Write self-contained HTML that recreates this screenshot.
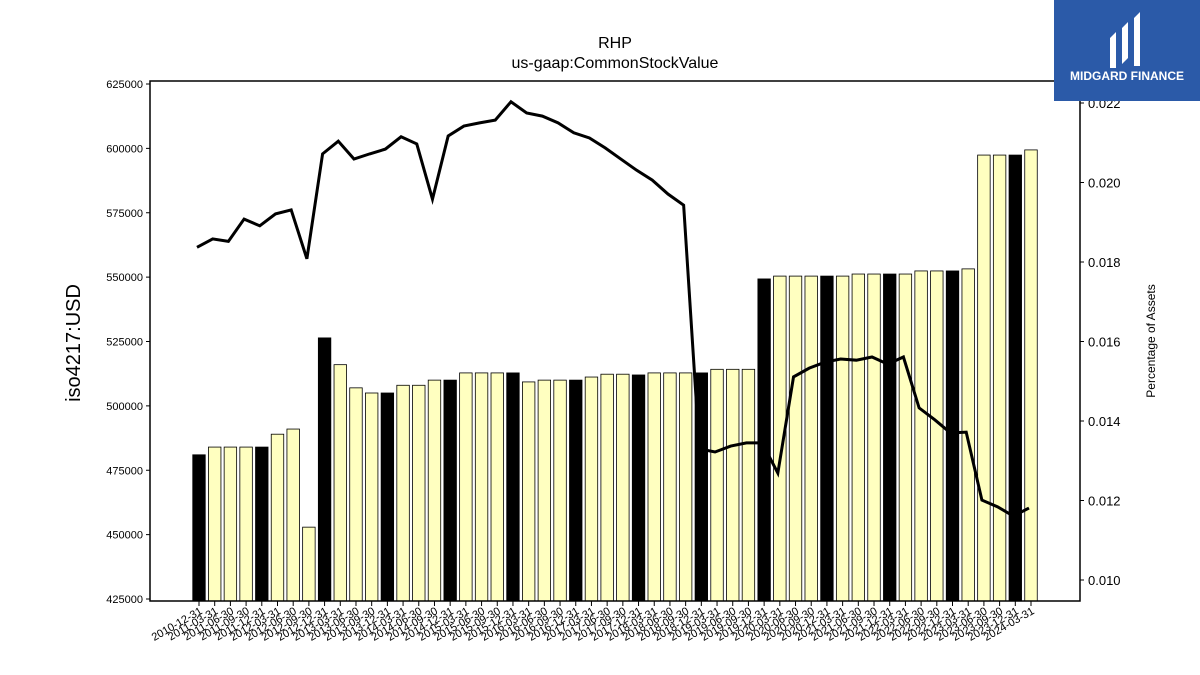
<!DOCTYPE html>
<html><head><meta charset="utf-8"><style>
body{margin:0;background:#fff;font-family:"Liberation Sans",sans-serif}
#wrap{position:relative;width:1200px;height:675px;overflow:hidden}
</style></head><body><div id="wrap">
<svg id="chart" width="1200" height="675"></svg>
<div style="position:absolute;left:1054px;top:0;width:146px;height:101px;background:#2b5aa8;color:#fff;font-weight:bold;font-size:12px;text-align:center">
<svg width="50" height="62" style="margin-top:8px"><path d="M8 30 L14 24 L14 60 L8 60Z M20 20 L26 14 L26 50 L20 56Z M32 10 L38 4 L38 58 L32 58Z" fill="#fff"/></svg>
<div style="margin-top:-4px">MIDGARD FINANCE</div></div>
</div>
<script>
const dates=["2010-12-31","2011-03-31","2011-06-30","2011-09-30","2011-12-31","2012-03-31","2012-06-30","2012-09-30","2012-12-31","2013-03-31","2013-06-30","2013-09-30","2013-12-31","2014-03-31","2014-06-30","2014-09-30","2014-12-31","2015-03-31","2015-06-30","2015-09-30","2015-12-31","2016-03-31","2016-06-30","2016-09-30","2016-12-31","2017-03-31","2017-06-30","2017-09-30","2017-12-31","2018-03-31","2018-06-30","2018-09-30","2018-12-31","2019-03-31","2019-06-30","2019-09-30","2019-12-31","2020-03-31","2020-06-30","2020-09-30","2020-12-31","2021-03-31","2021-06-30","2021-09-30","2021-12-31","2022-03-31","2022-06-30","2022-09-30","2022-12-31","2023-03-31","2023-06-30","2023-09-30","2023-12-31","2024-03-31"];
const values=[481000,484000,484000,484000,484000,489000,491000,452900,526400,516000,507000,505000,505000,508000,508000,510000,510000,512800,512800,512800,512800,509300,510000,510000,510000,511200,512300,512300,512000,512800,512800,512800,512800,514200,514200,514200,549300,550400,550400,550400,550400,550400,551200,551200,551200,551200,552400,552400,552400,553200,597400,597400,597400,599400];
const pct=[0.01837,0.01858,0.01852,0.01908,0.01891,0.01921,0.01931,0.01808,0.02072,0.02104,0.02059,0.02072,0.02084,0.02115,0.02097,0.01958,0.02117,0.02142,0.0215,0.02157,0.02203,0.02175,0.02167,0.0215,0.02125,0.02112,0.02087,0.02059,0.02031,0.02006,0.01971,0.01943,0.0133,0.01322,0.01337,0.01345,0.01345,0.01269,0.01511,0.01533,0.01548,0.01556,0.01553,0.01561,0.01543,0.01561,0.01433,0.01403,0.0137,0.01372,0.01201,0.01184,0.01161,0.01181];
const leftTicks=[425000,450000,475000,500000,525000,550000,575000,600000,625000];
const rightTicks=[0.010,0.012,0.014,0.016,0.018,0.020,0.022];
const NS="http://www.w3.org/2000/svg",svg=document.getElementById('chart');
function el(t,a,p){const e=document.createElementNS(NS,t);for(const k in a)e.setAttribute(k,a[k]);(p||svg).appendChild(e);return e;}
const L=150,R=1080,T=81,B=601;
const yL=v=>599-(v-425000)/200000*515;
const yR=v=>580-(v-0.010)/0.002*79.5;
const x=i=>199+i*(1031-199)/(dates.length-1);
const bw=12.5;
values.forEach((v,i)=>{const r=el('rect',{x:x(i)-bw/2,y:yL(v),width:bw,height:B-yL(v),fill:i%4==0?'#000':'#ffffc0',stroke:'#000','stroke-width':0.8});

});
const path=el('polyline',{points:pct.map((v,i)=>(x(i)-2)+','+yR(v)).join(' '),fill:'none',stroke:'#000','stroke-width':3});


const frame=el('rect',{x:L,y:T,width:R-L,height:B-T,fill:'none',stroke:'#000','stroke-width':1.5});


leftTicks.forEach(v=>{const y=yL(v);el('line',{x1:L-4,x2:L,y1:y,y2:y,stroke:'#000'});
const t=el('text',{x:L-7,y:y+4,'text-anchor':'end','font-size':11});t.textContent=v;

});
rightTicks.forEach(v=>{const y=yR(v);el('line',{x1:R,x2:R+4,y1:y,y2:y,stroke:'#000'});
const t=el('text',{x:R+8,y:y+5,'font-size':13});t.textContent=v.toFixed(3);

});
dates.forEach((d,i)=>{el('line',{x1:x(i),x2:x(i),y1:B,y2:B+5,stroke:'#000'});
const t=el('text',{x:x(i)+4,y:B+12,'text-anchor':'end','font-size':11,transform:`rotate(-30 ${x(i)+4} ${B+12})`});t.textContent=d;

});
const t1=el('text',{x:615,y:48,'text-anchor':'middle','font-size':16});t1.textContent='RHP';


const t2=el('text',{x:615,y:68,'text-anchor':'middle','font-size':16});t2.textContent='us-gaap:CommonStockValue';


const yl=el('text',{x:80,y:343,'text-anchor':'middle','font-size':20,transform:'rotate(-90 80 343)'});yl.textContent='iso4217:USD';


const yr=el('text',{x:1155,y:341,'text-anchor':'middle','font-size':12,transform:'rotate(-90 1155 341)'});yr.textContent='Percentage of Assets';


</script></body></html>
